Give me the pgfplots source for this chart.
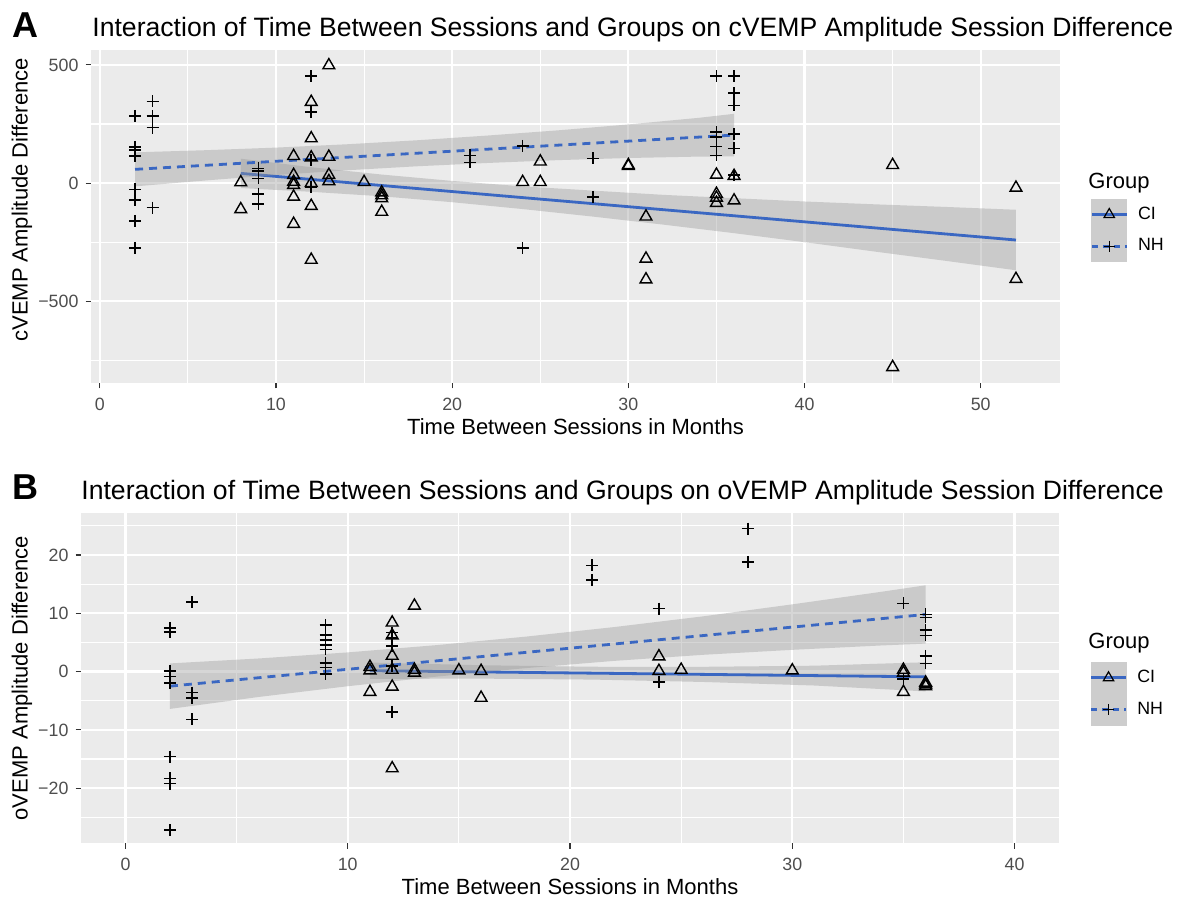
\documentclass[border=0pt]{standalone}
\usepackage{fontspec}
\setmainfont{Liberation Sans}
\usepackage{pgfplots}
\pgfplotsset{compat=1.18}
\definecolor{ggbg}{RGB}{235,235,235}
\definecolor{ggtick}{RGB}{77,77,77}
\definecolor{ggtickmark}{RGB}{51,51,51}
\definecolor{ggblue}{RGB}{58,103,194}
\definecolor{ribbon}{RGB}{153,153,153}
\definecolor{keybg}{RGB}{205,205,205}
\pgfplotsset{
  ggstyle/.style={
    scale only axis,
    axis background/.style={fill=ggbg},
    axis line style={draw=none},
    grid=both,
    major grid style={white, line width=1.1pt},
    minor grid style={white, line width=0.55pt},
    tick align=outside,
    xtick pos=left, ytick pos=left,
    major tick length=2.75pt,
    minor tick length=0pt,
    tick style={ggtickmark, line width=0.55pt},
    ticklabel style={font=\fontsize{8.9}{10}\selectfont, text=ggtick},
    xticklabel style={yshift=-1.5pt},
    /pgf/number format/assume math mode=true,
    label style={font=\fontsize{11}{13}\selectfont},
    legend cell align=left,
    legend style={draw=none, fill=none, font=\fontsize{8.9}{10}\selectfont, row sep=0pt, column sep=4pt, inner sep=0pt, nodes={inner sep=1pt}},
  },
  cipts/.style={only marks, mark=triangle, mark size=3.4pt, mark options={black, line width=0.7pt}, forget plot},
  nhpts/.style={only marks, mark=+, mark size=3pt, mark options={black, line width=0.75pt}, forget plot},
  band/.style={fill=ribbon, fill opacity=0.4, draw=none, forget plot},
  ciline/.style={ggblue, line width=1.4pt, no marks, forget plot},
  nhline/.style={ggblue, line width=1.4pt, dash pattern=on 4pt off 3pt, no marks, forget plot},
  cikey/.style={legend image code/.code={
      \fill[keybg] (0pt,-7.75pt) rectangle (17.5pt,7.75pt);
      \draw[ggblue, line width=1.3pt] (0pt,0pt) -- (17.5pt,0pt);
      \draw[black, line width=0.6pt, mark=triangle, mark size=3pt] plot coordinates {(8.75pt,0pt)};
  }},
  nhkey/.style={legend image code/.code={
      \fill[keybg] (0pt,-7.75pt) rectangle (17.5pt,7.75pt);
      \draw[ggblue, line width=1.3pt, dash pattern=on 3pt off 2.5pt] (0pt,0pt) -- (17.5pt,0pt);
      \draw[black, line width=0.65pt, mark=+, mark size=2.8pt] plot coordinates {(8.75pt,0pt)};
  }},
}
\begin{document}
\begin{tikzpicture}
\useasboundingbox (0,0) rectangle (590.5pt,449.5pt);
% ---------------- Panel A ----------------
\begin{axis}[ggstyle,
  at={(45.5pt,258pt)}, anchor=south west,
  width=484.5pt, height=166.5pt,
  xmin=-0.5, xmax=54.5, ymin=-846, ymax=563,
  xtick={0,10,20,30,40,50},
  minor xtick={5,15,25,35,45},
  ytick={-500,0,500}, yticklabels={−500,0,500},
  minor ytick={-750,-250,250},
  xlabel={Time Between Sessions in Months},
  ylabel={cVEMP Amplitude Difference},
  xlabel style={at={(axis description cs:0.5,-0.132)}, anchor=center},
  ylabel style={at={(axis description cs:-0.0712,0.55)}, anchor=center, rotate=0},
  legend style={at={(1.031,0.555)}, anchor=north west},
]
\addplot[cipts] coordinates {
(8,3) (8,-111)
(11,114) (11,34) (11,5) (11,-8) (11,-58) (11,-173)
(12,343) (12,189) (12,108) (12,0) (12,-97) (12,-325)
(13,498) (13,111) (13,34) (13,8)
(15,4)
(16,-40) (16,-52) (16,-64) (16,-122)
(24,4)
(25,91) (25,4)
(30,76) (30,72)
(31,-142) (31,-320) (31,-408)
(35,35) (35,-46) (35,-62) (35,-84)
(36,30) (36,-74)
(45,76) (45,-779)
(52,-20) (52,-406)
};
\addplot[nhpts] coordinates {
(2,284) (2,153) (2,139) (2,115) (2,-27) (2,-72) (2,-160) (2,-274)
(3,346) (3,284) (3,235) (3,-104)
(9,62) (9,50) (9,20) (9,-46) (9,-89)
(12,452) (12,301) (12,97) (12,-16)
(21,117) (21,88)
(24,157) (24,-274)
(28,104) (28,-58)
(35,452) (35,215) (35,195) (35,155) (35,117)
(36,452) (36,381) (36,329) (36,207) (36,147) (36,34)
};
% CI ribbon and fit
\addplot[band] coordinates {
(8,103) (12,67) (16,36) (20,9) (24,-14) (28,-32) (32,-50) (36,-64) (40,-78) (44,-90) (48,-101) (52,-113)
(52,-369) (48,-329) (44,-290) (40,-250) (36,-212) (32,-176) (28,-142) (24,-110) (20,-81) (16,-56) (12,-37) (8,-21)
};
\addplot[ciline] coordinates {(8,41) (52,-241)};
% NH ribbon and fit
\addplot[band] coordinates {
(2,130) (6,139) (10,150) (14,164) (18,181) (22,201) (26,223) (30,248) (34,276) (36,293)
(36,113) (34,112) (30,106) (26,97) (22,85) (18,71) (14,54) (10,34) (6,11) (2,-14)
};
\addplot[nhline] coordinates {(2,58) (36,203)};
\addlegendimage{cikey}\addlegendentry{CI}
\addlegendimage{nhkey}\addlegendentry{NH}
\end{axis}
% ---------------- Panel B ----------------
\begin{axis}[ggstyle,
  at={(40.5pt,28pt)}, anchor=south west,
  width=489pt, height=165pt,
  xmin=-2, xmax=42, ymin=-29.4, ymax=27.2,
  xtick={0,10,20,30,40},
  minor xtick={5,15,25,35},
  ytick={-20,-10,0,10,20}, yticklabels={−20,−10,0,10,20},
  minor ytick={-25,-15,-5,5,15,25},
  xlabel={Time Between Sessions in Months},
  ylabel={oVEMP Amplitude Difference},
  xlabel style={at={(axis description cs:0.5,-0.133)}, anchor=center},
  ylabel style={at={(axis description cs:-0.0603,0.5)}, anchor=center, rotate=0},
  legend style={at={(1.031,0.55)}, anchor=north west},
]
\addplot[cipts] coordinates {
(11,0.8) (11,0.2) (11,-3.5)
(12,8.4) (12,6.2) (12,2.7) (12,0.3) (12,-2.6) (12,-16.6)
(13,11.3) (13,0.3) (13,-0.2)
(15,0.2)
(16,0.1) (16,-4.5)
(24,2.6) (24,0.1)
(25,0.3)
(30,0.2)
(35,0.3) (35,-0.2) (35,-3.5)
(36,-1.9) (36,-2.2) (36,-2.5)
};
\addplot[nhpts] coordinates {
(2,7.5) (2,6.8) (2,0.1) (2,-0.8) (2,-2.0) (2,-14.6) (2,-18.3) (2,-19.2) (2,-27.2)
(3,11.9) (3,-3.6) (3,-4.5) (3,-8.2)
(9,8.0) (9,6.3) (9,5.4) (9,4.6) (9,3.8) (9,1.5) (9,0.7) (9,-0.4)
(12,6.7) (12,5.8) (12,4.4) (12,1.0) (12,-6.9)
(21,18.2) (21,15.7)
(24,10.8) (24,-1.8)
(28,24.5) (28,18.8)
(35,11.7) (35,-1.3)
(36,9.8) (36,9.3) (36,7.1) (36,6.2) (36,2.7) (36,1.4)
};
\addplot[band] coordinates {
(11,1.55) (16,1.09) (21,0.83) (26,0.82) (31,1.01) (36,1.6)
(36,-3.4) (31,-2.39) (26,-1.78) (21,-1.37) (16,-1.21) (11,-1.25)
};
\addplot[ciline] coordinates {(11,0.15) (36,-0.9)};
\addplot[band] coordinates {
(2,1.4) (6,2.25) (10,3.29) (14,4.54) (18,5.99) (22,7.64) (26,9.48) (30,11.53) (34,13.68) (36,14.8)
(36,4.8) (34,4.48) (30,3.73) (26,2.88) (22,1.84) (18,0.59) (14,-0.86) (10,-2.51) (6,-4.35) (2,-6.4)
};
\addplot[nhline] coordinates {(2,-2.5) (36,9.8)};
\addlegendimage{cikey}\addlegendentry{CI}
\addlegendimage{nhkey}\addlegendentry{NH}
\end{axis}
% titles and panel letters
\node[inner sep=0pt, anchor=base west, font=\fontsize{13.3}{16}\selectfont] at (46pt,431pt) {Interaction of Time Between Sessions and Groups on cVEMP Amplitude Session Difference};
\node[inner sep=0pt, anchor=base west, font=\fontsize{13.3}{16}\selectfont] at (40.5pt,199.5pt) {Interaction of Time Between Sessions and Groups on oVEMP Amplitude Session Difference};
\node[inner sep=0pt, anchor=base west, font=\bfseries\fontsize{18}{20}\selectfont] at (6pt,430.5pt) {A};
\node[inner sep=0pt, anchor=base west, font=\bfseries\fontsize{18}{20}\selectfont] at (6pt,199.5pt) {B};
\node[inner sep=0pt, anchor=base west, font=\fontsize{11}{13}\selectfont] at (544pt,355pt) {Group};
\node[inner sep=0pt, anchor=base west, font=\fontsize{11}{13}\selectfont] at (544pt,125pt) {Group};
\end{tikzpicture}
\end{document}
